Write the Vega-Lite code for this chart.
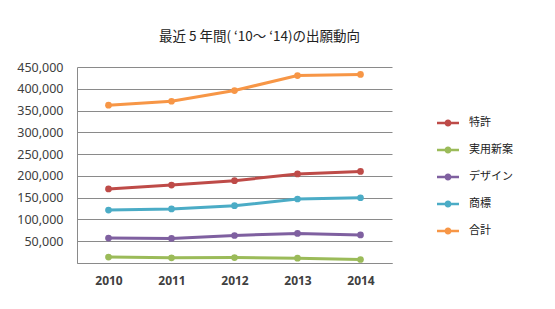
{
  "$schema": "https://vega.github.io/schema/vega-lite/v6.json",
  "autosize": {"type": "none"},
  "width": 315,
  "height": 196,
  "padding": {"left": 77, "top": 67, "right": 163, "bottom": 46},
  "background": "white",
  "title": {
    "text": "最近 5 年間( ‘10～ ‘14)の出願動向",
    "font": "Noto Sans CJK JP",
    "fontSize": 13.5,
    "fontWeight": "normal",
    "color": "#222222",
    "anchor": "middle",
    "dx": 25,
    "offset": 18
  },
  "data": {
    "values": [
      {"year": "2010", "series": "特許", "value": 170101},
      {"year": "2011", "series": "特許", "value": 178924},
      {"year": "2012", "series": "特許", "value": 188915},
      {"year": "2013", "series": "特許", "value": 204589},
      {"year": "2014", "series": "特許", "value": 210292},
      {"year": "2010", "series": "実用新案", "value": 13661},
      {"year": "2011", "series": "実用新案", "value": 11854},
      {"year": "2012", "series": "実用新案", "value": 12424},
      {"year": "2013", "series": "実用新案", "value": 10968},
      {"year": "2014", "series": "実用新案", "value": 8000},
      {"year": "2010", "series": "デザイン", "value": 57187},
      {"year": "2011", "series": "デザイン", "value": 56524},
      {"year": "2012", "series": "デザイン", "value": 63135},
      {"year": "2013", "series": "デザイン", "value": 67954},
      {"year": "2014", "series": "デザイン", "value": 64413},
      {"year": "2010", "series": "商標", "value": 121412},
      {"year": "2011", "series": "商標", "value": 124052},
      {"year": "2012", "series": "商標", "value": 131505},
      {"year": "2013", "series": "商標", "value": 146919},
      {"year": "2014", "series": "商標", "value": 149800},
      {"year": "2010", "series": "合計", "value": 362361},
      {"year": "2011", "series": "合計", "value": 371354},
      {"year": "2012", "series": "合計", "value": 395979},
      {"year": "2013", "series": "合計", "value": 430430},
      {"year": "2014", "series": "合計", "value": 433000}
    ]
  },
  "encoding": {
    "x": {
      "field": "year",
      "type": "ordinal",
      "scale": {"type": "point", "padding": 0.5},
      "axis": {
        "title": null,
        "labelAngle": 0,
        "ticks": false,
        "domain": true,
        "domainColor": "#8a8a8a",
        "labelPadding": 12,
        "labelFont": "Noto Sans",
        "labelFontSize": 12,
        "labelFontWeight": "bold",
        "labelColor": "#404040",
        "grid": false
      }
    },
    "y": {
      "field": "value",
      "type": "quantitative",
      "scale": {"domain": [0, 450000]},
      "axis": {
        "title": null,
        "values": [0, 50000, 100000, 150000, 200000, 250000, 300000, 350000, 400000, 450000],
        "labelExpr": "datum.value == 0 ? '' : format(datum.value, ',d')",
        "ticks": false,
        "domain": true,
        "domainColor": "#8a8a8a",
        "gridColor": "#8a8a8a",
        "gridWidth": 1,
        "labelPadding": 14,
        "labelFont": "Noto Sans",
        "labelFontSize": 12.5,
        "labelColor": "#404040"
      }
    },
    "color": {
      "field": "series",
      "type": "nominal",
      "scale": {
        "domain": ["特許", "実用新案", "デザイン", "商標", "合計"],
        "range": ["#BE4B48", "#9BBB59", "#7F60A0", "#4BACC6", "#F79646"]
      },
      "legend": {
        "title": null,
        "orient": "none",
        "legendX": 360,
        "legendY": 45,
        "symbolType": "M-1,-0.12H1V0.12H-1Z M-0.32,0A0.32,0.32 0 1,1 0.32,0A0.32,0.32 0 1,1 -0.32,0Z",
        "symbolSize": 484,
        "symbolStrokeWidth": 0,
        "labelFont": "Noto Sans CJK JP",
        "labelFontSize": 11,
        "labelColor": "#222222",
        "labelOffset": 10,
        "rowPadding": 11,
        "encode": {
          "symbols": {
            "update": {
              "fill": {"scale": "color", "field": "value"},
              "fillOpacity": {"value": 1}
            }
          }
        }
      }
    }
  },
  "mark": {
    "type": "line",
    "strokeWidth": 3,
    "point": {"filled": true, "size": 45, "opacity": 1}
  },
  "config": {
    "view": {"stroke": null}
  }
}
